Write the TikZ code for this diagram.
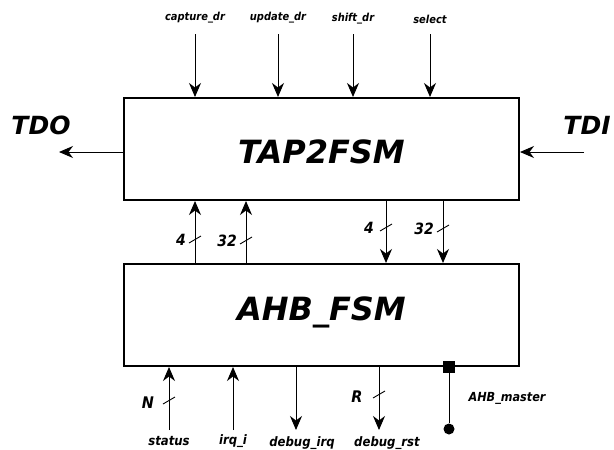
\documentclass[tikz,border=0pt]{standalone}
\usepackage{fontspec}
\setmainfont{DejaVu Sans}
\newfontfamily\cnd{DejaVu Sans Condensed}
\usetikzlibrary{arrows.meta}
\begin{document}
\begin{tikzpicture}[x=1pt,y=-1pt,
  blk/.style={draw, line width=2pt, minimum width=395pt, minimum height=102pt, inner sep=0pt},
  blktext/.style={inner sep=0pt, font=\fontsize{32}{36}\selectfont\bfseries\itshape},
  sig/.style={line width=1pt, -{Stealth[length=14pt,width=12pt,inset=4.5pt]}},
  wire/.style={line width=1pt},
  lbl/.style={inner sep=0pt, font=\cnd\fontsize{11}{13}\selectfont\bfseries\itshape},
  blbl/.style={inner sep=0pt, font=\cnd\fontsize{13}{15}\selectfont\bfseries\itshape},
  big/.style={inner sep=0pt, font=\fontsize{25}{30}\selectfont\bfseries\itshape},
  num/.style={inner sep=0pt, font=\cnd\fontsize{15.5}{18}\selectfont\bfseries\itshape},
  slash/.style={line width=0.9pt}]
\useasboundingbox (0,0) rectangle (614,450);

\node[blk] (tap) at (321.5,149) {};
\node[blktext] (taptext) at (321.5,152) {TAP2FSM};
\node[blk] (ahb) at (321.5,315) {};
\node[blktext] (ahbtext) at (321.5,312) {AHB\_FSM};

% top inputs
\node[lbl] (lcap) at (195,18) {capture\_dr};
\node[lbl] (lupd) at (278,18) {update\_dr};
\node[lbl] (lshf) at (353,19) {shift\_dr};
\node[lbl] (lsel) at (430,19) {select};
\coordinate (ccap) at (195,34);
\coordinate (cupd) at (278,34);
\coordinate (cshf) at (353,34);
\coordinate (csel) at (430,34);
\draw[sig] (ccap) -- (ccap |- tap.north);
\draw[sig] (cupd) -- (cupd |- tap.north);
\draw[sig] (cshf) -- (cshf |- tap.north);
\draw[sig] (csel) -- (csel |- tap.north);

% TDO / TDI
\node[big] (tdo) at (41,125) {TDO};
\node[big] (tdi) at (587,125) {TDI};
\coordinate (ctdo) at (59,152);
\coordinate (ctdi) at (584,152);
\draw[sig] (ctdo -| tap.west) -- (ctdo);
\draw[sig] (ctdi) -- (ctdi -| tap.east);

% between the blocks
\coordinate (u1) at (195,0);
\coordinate (u2) at (246,0);
\coordinate (d1) at (386,0);
\coordinate (d2) at (443,0);
\draw[sig] (u1 |- ahb.north) -- (u1 |- tap.south);
\draw[sig] (u2 |- ahb.north) -- (u2 |- tap.south);
\draw[sig] (d1 |- tap.south) -- (d1 |- ahb.north);
\draw[sig] (d2 |- tap.south) -- (d2 |- ahb.north);
\draw[slash] (189,243) -- (201,236);
\draw[slash] (240,244) -- (252,237);
\draw[slash] (380,231) -- (392,224);
\draw[slash] (437,232) -- (449,225);
\node[num] (n4a) at (181,240) {4};
\node[num] (n32a) at (227,241) {32};
\node[num] (n4b) at (369,228) {4};
\node[num] (n32b) at (424,229) {32};

% bottom signals
\coordinate (cst) at (169,430);
\coordinate (cirq) at (233,430);
\coordinate (cdi) at (296,430);
\coordinate (cdr) at (379,430);
\draw[sig] (cst) -- (cst |- ahb.south);
\draw[sig] (cirq) -- (cirq |- ahb.south);
\draw[sig] (cdi |- ahb.south) -- (cdi);
\draw[sig] (cdr |- ahb.south) -- (cdr);
\draw[slash] (163,404) -- (175,397);
\draw[slash] (373,398) -- (385,391);
\node[num, font=\cnd\fontsize{16}{18}\selectfont\bfseries\itshape] (nN) at (148,403) {N};
\node[num, font=\cnd\fontsize{16}{18}\selectfont\bfseries\itshape] (nR) at (357,397) {R};
\node[blbl] (lst) at (169,441) {status};
\node[blbl] (lirq) at (233,441) {irq\_i};
\node[blbl] (ldi) at (302,443) {debug\_irq};
\node[blbl] (ldr) at (387,443) {debug\_rst};

% AHB master port
\coordinate (cam) at (449,429);
\node[fill, minimum size=12pt, inner sep=0pt] (sq) at (cam |- ahb.south) {};
\node[circle, fill, minimum size=11pt, inner sep=0pt] (dot) at (cam) {};
\draw[wire] (sq) -- (dot);
\node[blbl, font=\cnd\fontsize{12.5}{14}\selectfont\bfseries\itshape] (lam) at (507,398) {AHB\_master};
\end{tikzpicture}
\end{document}
